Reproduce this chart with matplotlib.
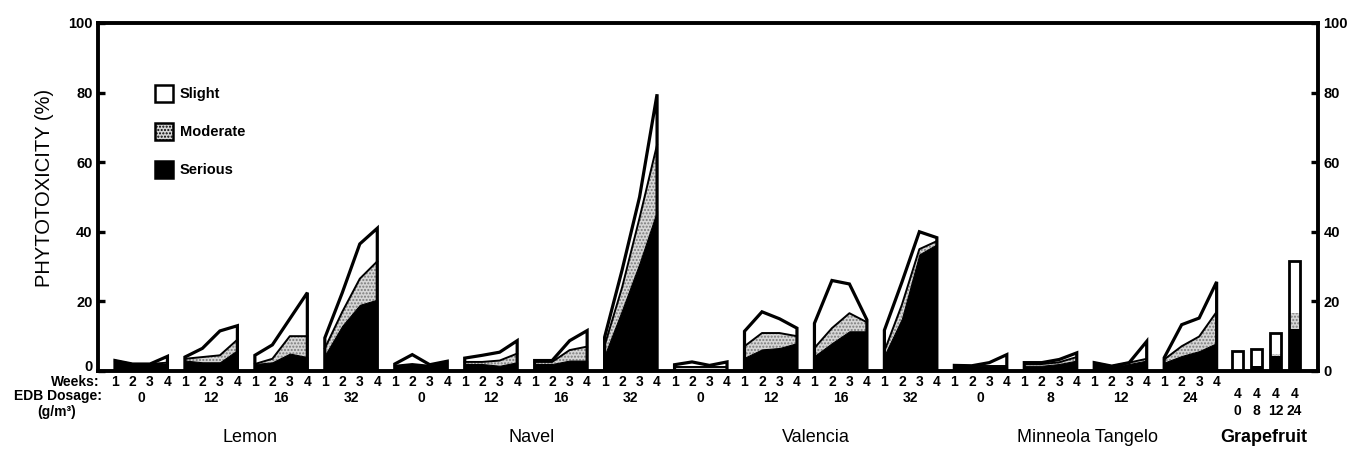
import numpy as np
import matplotlib.pyplot as plt
from matplotlib.patches import Patch
from matplotlib.transforms import blended_transform_factory, ScaledTranslation

plt.rcParams['font.family'] = ['Liberation Sans', 'DejaVu Sans']

# ───── Data: phytotoxicity (%) by severity class, weeks 1-4 ─────
crops = ["Lemon", "Navel", "Valencia", "Minneola Tangelo"]
dose_labels = [
    ["0", "12", "16", "32"],
    ["0", "12", "16", "32"],
    ["0", "12", "16", "32"],
    ["0", "8", "12", "24"],
]
weeks = [1, 2, 3, 4]

serious = [
    [3, 2, 2, 2], [3, 2.5, 2.5, 6], [2, 2.5, 5, 4], [4.5, 13, 19, 20.5],
    [1.5, 2, 1.5, 2.8], [2, 2, 1.5, 2.5], [2, 2, 3, 3], [4.5, 17.5, 31, 46],
    [0.5, 0.5, 0.5, 0.5], [3.8, 6.2, 6.6, 8], [4.3, 8, 11.4, 11.4], [4.5, 15, 33.5, 36.4],
    [1, 1, 1, 1], [1.5, 1.5, 2, 3], [2.4, 1.4, 2, 3], [2.4, 4.3, 5.7, 8],
]
moderate = [
    [0, 0, 0, 0.4], [0.5, 1.5, 2, 3], [0, 1, 5, 6], [2, 4, 7.5, 11],
    [0, 0, 0, 0], [0.6, 0.6, 1.5, 2.5], [0.6, 0.6, 3, 4], [2.8, 6.5, 13, 19],
    [0.5, 0.5, 0.5, 0.5], [3.3, 4.7, 4.3, 2], [2.3, 4.3, 5.2, 2.6], [1.2, 4, 1.5, 0.9],
    [0.5, 0.5, 0.5, 0.5], [0.5, 0.5, 0.5, 1], [0, 0, 0.4, 0.5], [0.9, 2.8, 4.2, 9],
]
slight = [
    [0, 0, 0, 1.8], [0.5, 2.5, 7, 4], [2.5, 4, 5, 12.5], [3, 5.5, 10, 9.5],
    [0.5, 2.7, 0.3, 0], [1.1, 1.9, 2.4, 3.7], [0.4, 0.4, 2.7, 4.6], [2.4, 5, 6, 14.5],
    [0.8, 1.6, 0.6, 1.6], [4.3, 6.1, 4.1, 2.3], [7.1, 13.7, 8.4, 0.7], [6, 6.5, 5, 1],
    [0.1, 0, 0.9, 3.2], [0.4, 0.4, 0.8, 1.2], [0, 0, 0, 5], [0.5, 6.2, 5.3, 8.6],
]

# Grapefruit: week 4 only
grape_doses = ["0", "8", "12", "24"]
grape_serious = [0, 1.4, 4.3, 12]
grape_moderate = [0, 0, 0.5, 4.8]
grape_slight = [5.8, 4.8, 6, 14.7]

# ───── Styles ─────
STIPPLE = dict(facecolor='#d6d6d6', edgecolor='#7a7a7a', hatch='.....', linewidth=0)
LW_OUT = 2.3
BOLD = dict(fontweight='bold', fontsize=10)

fig = plt.figure(figsize=(13.67, 4.58), dpi=100)
ax = fig.add_axes([0.0717, 0.19, 0.8925, 0.76])

# ───── Stacked area groups ─────
for g in range(len(serious)):
    x = 4 * g + np.array(weeks) - 1
    s = np.array(serious[g], dtype=float)
    m = s + np.array(moderate[g])
    t = m + np.array(slight[g])
    ax.fill_between(x, 0, t, facecolor='white', linewidth=0, zorder=2)
    ax.fill_between(x, s, m, zorder=3, **STIPPLE)
    ax.fill_between(x, 0, s, facecolor='black', edgecolor='black', linewidth=0.8, zorder=4)
    ax.plot(x, m, color='black', lw=1.4, zorder=5)
    ax.plot(np.r_[x[0], x, x[-1]], np.r_[0, t, 0], color='black', lw=LW_OUT,
            solid_joinstyle='miter', zorder=6)

# ───── Grapefruit bars ─────
gx = 64.2 + 1.08 * np.arange(len(grape_doses))
gs = np.array(grape_serious)
gm = np.array(grape_moderate)
gl = np.array(grape_slight)
ax.bar(gx, gs, width=0.6, color='black', zorder=3)
ax.bar(gx, gm, bottom=gs, width=0.6, zorder=3, **STIPPLE)
ax.bar(gx, gl, bottom=gs + gm, width=0.6, color='white', zorder=3)
ax.bar(gx, gs + gm + gl, width=0.6, fill=False, edgecolor='black', lw=2, zorder=6)

# ───── Axes ─────
ax.set_xlim(-0.97, 68.8)
ax.set_ylim(0, 100)
for sp in ax.spines.values():
    sp.set_linewidth(2.8)
    sp.set_zorder(7)
ax.set_yticks(range(0, 101, 20))
ax.tick_params(axis='y', direction='in', length=5, width=2.4, left=True, right=True,
               labelleft=True, labelright=True, labelsize=10.5, pad=4)
for lab in ax.get_yticklabels():
    lab.set_fontweight('bold')
# lift the left "0" a little so it clears the row titles below
zero_lab = ax.yaxis.get_major_ticks()[0].label1
zero_lab.set_transform(zero_lab.get_transform() + ScaledTranslation(0, 4 / 72, fig.dpi_scale_trans))

# week numbers under each group
wx = [4 * g + w - 1 for g in range(len(serious)) for w in weeks]
ax.set_xticks(wx, [str(w) for g in range(len(serious)) for w in weeks])
ax.tick_params(axis='x', length=0, pad=3)
for lab in ax.get_xticklabels():
    lab.set_fontweight('bold')
    lab.set_fontsize(10)

tr = blended_transform_factory(ax.transData, ax.transAxes)
for c, crop in enumerate(crops):
    for d, lab in enumerate(dose_labels[c]):
        ax.text(4 * (4 * c + d) + 1.5, -0.077, lab, transform=tr, ha='center', va='center',
                **BOLD)
for i, lab in enumerate(grape_doses):
    ax.text(gx[i], -0.066, "4", transform=tr, ha='center', va='center', **BOLD)
    ax.text(gx[i], -0.116, lab, transform=tr, ha='center', va='center', **BOLD)

crop_x = [7.7, 23.8, 40.1, 55.6]
for c, crop in enumerate(crops):
    ax.text(crop_x[c], -0.19, crop, transform=tr, ha='center', va='center', fontsize=13)
ax.text(65.7, -0.19, "Grapefruit", transform=tr, ha='center', va='center',
        fontsize=13, fontweight='bold')

fig.text(100 / 1367, 1 - 382 / 458, "Weeks:", ha='right', va='center', **BOLD)
fig.text(102 / 1367, 1 - 396 / 458, "EDB Dosage:", ha='right', va='center', **BOLD)
fig.text(57 / 1367, 1 - 412 / 458, "(g/m³)", ha='center', va='center', **BOLD)
fig.text(45 / 1367, 1 - 188 / 458, "PHYTOTOXICITY (%)", rotation=90,
         ha='center', va='center', fontsize=14.5)

# ───── Legend ─────
handles = [
    Patch(facecolor='white', edgecolor='black', lw=1.8),
    Patch(facecolor='#d6d6d6', edgecolor='black', hatch='.....', lw=1.8),
    Patch(facecolor='black', edgecolor='black', lw=1.8),
]
leg = ax.legend(handles, ['Slight', 'Moderate', 'Serious'], loc='upper left',
                bbox_to_anchor=(0.036, 0.86), frameon=False, handlelength=1.2,
                handleheight=1.4, labelspacing=1.45, handletextpad=0.5,
                prop=dict(weight='bold', size=10.5))

fig.savefig('out.png', dpi=100)
